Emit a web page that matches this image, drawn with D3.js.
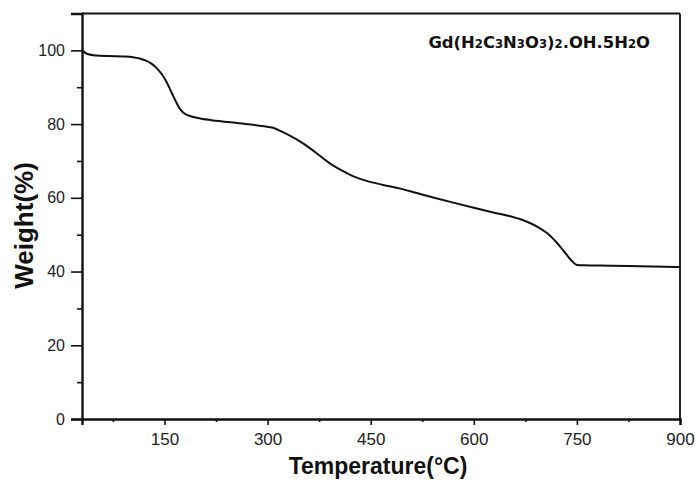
<!DOCTYPE html>
<html>
<head>
<meta charset="utf-8">
<script src="https://cdn.jsdelivr.net/npm/d3@7"></script>
<style>
  html, body { margin: 0; padding: 0; background: #fff; }
  svg { display: block; }
</style>
</head>
<body>
<div id="chart"></div>
<script>
// ---- data ----
const temperature = [30, 38, 50, 70, 90, 104, 114, 122, 131, 139, 147, 153, 158, 163, 168, 173, 178, 184, 192, 202, 225, 250, 275, 295, 308, 320, 333, 347, 362, 376, 390, 405, 424, 444, 468, 493, 517, 541, 570, 600, 627, 653, 668, 680, 694, 706, 716, 725, 735, 743, 750, 760, 800, 842, 900];
const weight      = [100, 99.0, 98.6, 98.45, 98.35, 98.15, 97.8, 97.3, 96.4, 95.1, 93.3, 91.4, 89.5, 87.5, 85.6, 84.0, 83.0, 82.4, 81.9, 81.5, 80.9, 80.4, 79.9, 79.4, 79.0, 78.0, 76.8, 75.3, 73.4, 71.4, 69.4, 67.7, 65.9, 64.6, 63.5, 62.5, 61.3, 60.1, 58.7, 57.3, 56.1, 55.0, 54.2, 53.3, 52.0, 50.5, 48.8, 46.9, 44.6, 42.8, 41.8, 41.7, 41.6, 41.45, 41.25];
const xTicksMajor = [150, 300, 450, 600, 750, 900];
const xTicksMinor = [75, 225, 375, 525, 675, 825];
const yTicksMajor = [0, 20, 40, 60, 80, 100];
const yTicksMinor = [10, 30, 50, 70, 90];
const xDomain = [30, 900];
const yDomain = [0, 110];
const xLabel = "Temperature(\u00B0C)";
const yLabel = "Weight(%)";
const sampleParts = [["Gd(H", 0], ["2", 1], ["C", 0], ["3", 1], ["N", 0], ["3", 1], ["O", 0], ["3", 1], [")", 0], ["2", 1], [".OH.5H", 0], ["2", 1], ["O", 0]];

// ---- layout ----
const W = 700, H = 484;
const margin = { top: 13.5, right: 20, bottom: 65, left: 82 };
const iw = W - margin.left - margin.right;
const ih = H - margin.top - margin.bottom;

const svg = d3.select("#chart").append("svg")
  .attr("width", W).attr("height", H)
  .style("font-family", "Arial, 'Liberation Sans', sans-serif");

const g = svg.append("g").attr("transform", `translate(${margin.left},${margin.top})`);

const x = d3.scaleLinear().domain(xDomain).range([0, iw]);
const y = d3.scaleLinear().domain(yDomain).range([ih, 0]);

// frame (top and right)
g.append("line").attr("x1", 0).attr("x2", iw).attr("y1", 0).attr("y2", 0)
  .attr("stroke", "#111").attr("stroke-width", 1.8);
g.append("line").attr("x1", iw).attr("x2", iw).attr("y1", 0).attr("y2", ih)
  .attr("stroke", "#111").attr("stroke-width", 1.8);

// x axis
const xAxis = g.append("g").attr("transform", `translate(0,${ih})`)
  .call(d3.axisBottom(x).tickValues(xTicksMajor).tickSize(6).tickPadding(8).tickFormat(d3.format("d")));
g.append("g").attr("transform", `translate(0,${ih})`)
  .call(d3.axisBottom(x).tickValues(xTicksMinor).tickSize(3).tickFormat(""))
  .call(s => s.select(".domain").remove());

// y axis
const yAxis = g.append("g")
  .call(d3.axisLeft(y).tickValues(yTicksMajor).tickSize(11).tickPadding(6).tickFormat(d3.format("d")));
g.append("g")
  .call(d3.axisLeft(y).tickValues(yTicksMinor).tickSize(5).tickFormat(""))
  .call(s => s.select(".domain").remove());

svg.selectAll(".domain").attr("stroke", "#111").attr("stroke-width", 2.4);
svg.selectAll(".tick line").attr("stroke", "#111").attr("stroke-width", 1.6);
xAxis.selectAll(".tick text").attr("font-size", 17).attr("fill", "#222");
yAxis.selectAll(".tick text").attr("font-size", 16).attr("fill", "#222");

// curve
const line = d3.line()
  .x((d, i) => x(temperature[i]))
  .y(d => y(d))
  .curve(d3.curveMonotoneX);
g.append("path")
  .datum(weight)
  .attr("fill", "none")
  .attr("stroke", "#111")
  .attr("stroke-width", 2)
  .attr("d", line);

// sample label
const lbl = svg.append("text")
  .attr("x", 650).attr("y", 48)
  .attr("text-anchor", "end")
  .attr("font-family", "'URW Gothic', 'Century Gothic', 'DejaVu Sans', sans-serif")
  .attr("font-weight", "bold")
  .attr("fill", "#111");
sampleParts.forEach(([t, small]) => {
  lbl.append("tspan").attr("font-size", small ? 11.7 : 16.4).text(t);
});

// axis titles
svg.append("text")
  .attr("x", 378).attr("y", 474)
  .attr("text-anchor", "middle")
  .attr("font-size", 23).attr("font-weight", "bold").attr("fill", "#111")
  .text(xLabel);
svg.append("text")
  .attr("transform", `translate(33,${margin.top + y(52.5)}) rotate(-90)`)
  .attr("text-anchor", "middle")
  .attr("font-size", 26).attr("font-weight", "bold").attr("fill", "#111")
  .text(yLabel);
</script>
</body>
</html>
